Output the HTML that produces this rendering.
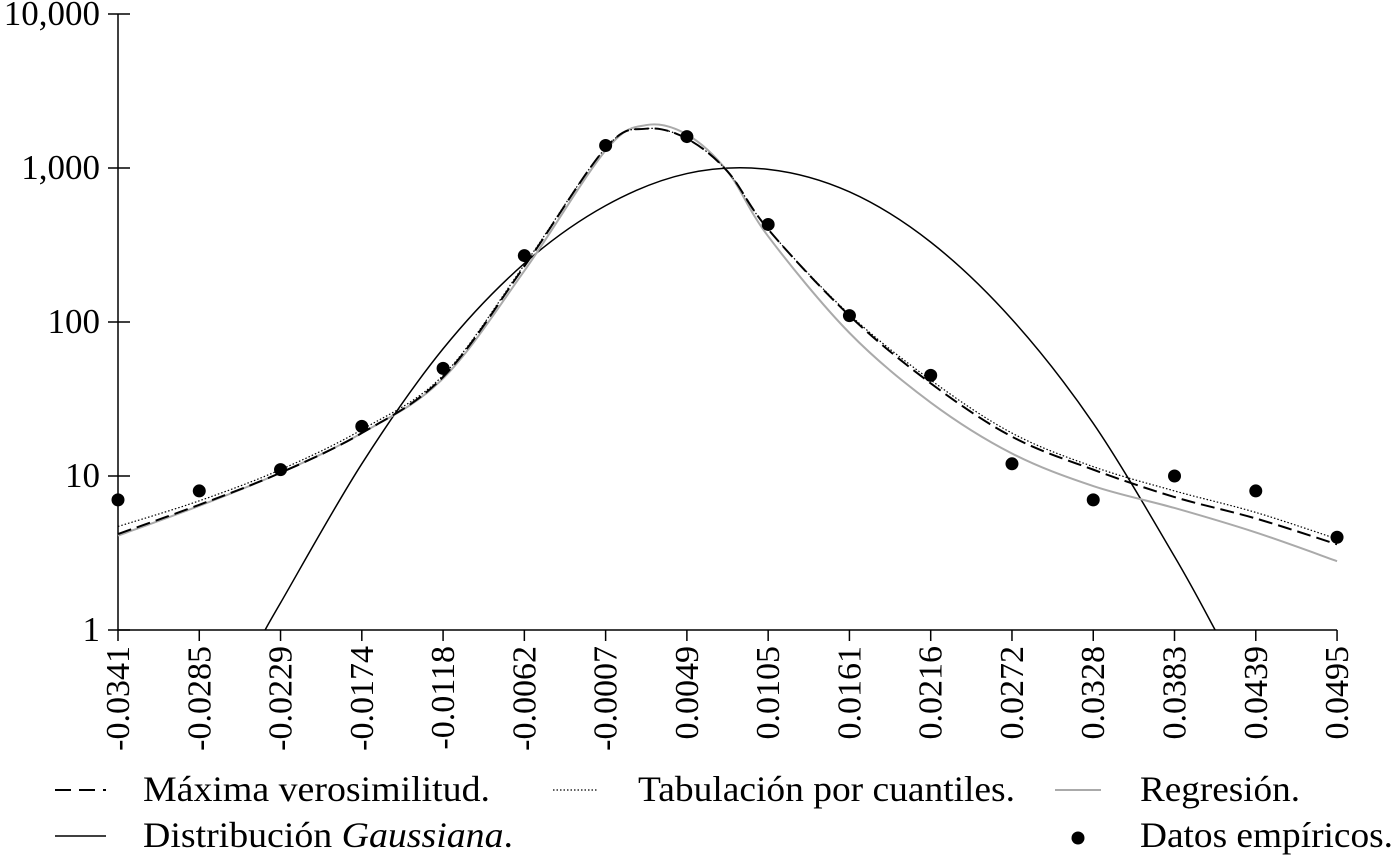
<!DOCTYPE html>
<html><head><meta charset="utf-8"><style>
body{margin:0;background:#fff;}
svg{display:block;font-family:"Liberation Serif",serif;}
</style></head><body>
<svg id="chart" width="1398" height="858" viewBox="0 0 1398 858" xmlns="http://www.w3.org/2000/svg"></svg>
<script>
const categories=["-0.0341","-0.0285","-0.0229","-0.0174","-0.0118","-0.0062","-0.0007","0.0049","0.0105","0.0161","0.0216","0.0272","0.0328","0.0383","0.0439","0.0495"];
const yTicks=[1,10,100,1000,10000];
const yTickLabels=["1","10","100","1,000","10,000"];
const empirical=[7,8,11,21,50,270,1400,1600,430,110,45,12,7,10,8,4];
// curves: [category index (fractional), value]
const mlIdx=[0,1,2,3,4,5,6,6.5,7,7.5,8,9,10,11,12,13,14,15];
const mlVal=[4.2,6.5,10.5,19,44,230,1350,1800,1550,950,400,110,40,18,11,7.3,5.3,3.6];
const quantIdx=[0,1,2,3,4,5,6,6.5,7,7.5,8,9,10,11,12,13,14,15];
const quantVal=[4.7,6.9,11,20,45,235,1350,1800,1550,950,400,112,42,19,11.5,8,5.8,3.9];
const regIdx=[0,1,2,3,4,5,6,6.5,7,7.5,8,9,10,11,12,13,14,15];
const regVal=[4.1,6.4,10.5,19,43,215,1300,1900,1650,950,360,85,30,14,8.6,6.2,4.3,2.8];
const gaussIdx=[1.81,2,3,4,5,6,7,8,9,10,11,12,13,13.5];
const gaussVal=[1,1.5,12,67,240,570,920,980,700,330,104,22,3,1];

const svg=document.getElementById('chart');
const NS='http://www.w3.org/2000/svg';
const X0=118,XS=81.27,Y1=630,DEC=154;
const xs=i=>X0+i*XS;
const ys=v=>Y1-Math.log10(v)*DEC;
function mk(tag,attrs,parent){const e=document.createElementNS(NS,tag);for(const k in attrs)e.setAttribute(k,attrs[k]);(parent||svg).appendChild(e);return e;}

const axes=mk('g',{});


const yAxis=mk('line',{x1:X0,y1:14,x2:X0,y2:Y1,stroke:'#000','stroke-width':1.5},axes);


const xAxis=mk('line',{x1:X0,y1:Y1,x2:xs(15),y2:Y1,stroke:'#000','stroke-width':1.5},axes);


yTicks.forEach((v,i)=>{
  const y=ys(v);
  const t=mk('line',{x1:108,y1:y,x2:130,y2:y,stroke:'#000','stroke-width':1.5},axes);
  
  
  const l=mk('text',{x:100,y:y+11,'text-anchor':'end','font-size':35},axes);
  
  
  l.textContent=yTickLabels[i];
});
categories.forEach((c,i)=>{
  const x=xs(i);
  const t=mk('line',{x1:x,y1:Y1,x2:x,y2:641,stroke:'#000','stroke-width':1.5},axes);
  
  
  const l=mk('text',{x:0,y:0,'text-anchor':'end','font-size':34,transform:`translate(${x+11},646) rotate(-90)`},axes);
  
  
  l.textContent=c;
});

function pathFrom(idx,val){
  const p=idx.map((v,i)=>[xs(v),ys(val[i])]);
  let d=`M${p[0][0]},${p[0][1]}`;
  for(let i=0;i<p.length-1;i++){
    const p0=p[i-1]||p[i],p1=p[i],p2=p[i+1],p3=p[i+2]||p2;
    const c1=[p1[0]+(p2[0]-p0[0])/6,p1[1]+(p2[1]-p0[1])/6];
    const c2=[p2[0]-(p3[0]-p1[0])/6,p2[1]-(p3[1]-p1[1])/6];
    d+=`C${c1[0]},${c1[1]} ${c2[0]},${c2[1]} ${p2[0]},${p2[1]}`;
  }
  return d;
}
const g1=mk('path',{d:pathFrom(gaussIdx,gaussVal),fill:'none',stroke:'#000','stroke-width':1.5});


const g2=mk('path',{d:pathFrom(regIdx,regVal),fill:'none',stroke:'#aaa','stroke-width':2});


const g3=mk('path',{d:pathFrom(quantIdx,quantVal),fill:'none',stroke:'#000','stroke-width':1.2,'stroke-dasharray':'1.5,2'});


const g4=mk('path',{d:pathFrom(mlIdx,mlVal),fill:'none',stroke:'#000','stroke-width':2,'stroke-dasharray':'14,6'});


empirical.forEach((v,i)=>{
  const c=mk('circle',{cx:xs(i),cy:ys(v),r:6.5,fill:'#000'});
  
  
});

// legend
const lg=mk('g',{'font-size':36});


function entry(name,sym,x,y,w,label,html){
  const e=mk('g',{},lg);
  
  
  sym(e,y);
  const t=mk('text',{x:x,y:y+11,textLength:w,lengthAdjust:'spacingAndGlyphs'},e);
  t.innerHTML=html||label;
}
entry('legend-max-likelihood',(e,y)=>mk('line',{x1:55,y1:y,x2:106,y2:y,stroke:'#000','stroke-width':2,'stroke-dasharray':'16,8'},e),143,790,347,'Máxima verosimilitud.');
entry('legend-quantile',(e,y)=>mk('line',{x1:553,y1:y,x2:598,y2:y,stroke:'#000','stroke-width':1.2,'stroke-dasharray':'1.5,2'},e),638,790,377,'Tabulación por cuantiles.');
entry('legend-regression',(e,y)=>mk('line',{x1:1055,y1:y,x2:1101,y2:y,stroke:'#aaa','stroke-width':2},e),1140,790,160,'Regresión.');
entry('legend-gaussian',(e,y)=>mk('line',{x1:55,y1:y,x2:106,y2:y,stroke:'#000','stroke-width':1.5},e),143,836,370,'','Distribución <tspan font-style="italic">Gaussiana</tspan>.');
entry('legend-empirical',(e,y)=>mk('circle',{cx:1078,cy:y+2,r:6.5,fill:'#000'},e),1140,836,253,'Datos empíricos.');
</script>
</body></html>
